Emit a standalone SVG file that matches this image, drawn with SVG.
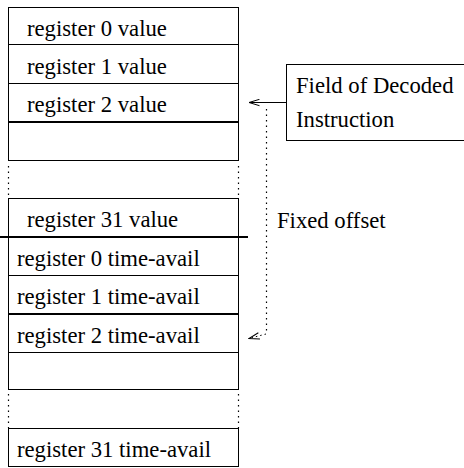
<svg xmlns="http://www.w3.org/2000/svg" width="464" height="468" viewBox="0 0 464 468">
  <style>
    text { font-family: "Liberation Serif", "Times New Roman", serif; font-size: 22.7px; fill: #000; }
    .box { fill: #fff; stroke: #000; stroke-width: 1; }
    .sep { stroke: #000; stroke-width: 1.2; }
    .thick { stroke: #000; stroke-width: 1.8; }
    .dots { stroke: #000; stroke-width: 1.2; stroke-dasharray: 1.5 4; fill: none; }
    .link { stroke: #000; stroke-width: 1; fill: none; }
  </style>
  <defs>
    <marker id="openHead" viewBox="0 0 12 8" refX="11.5" refY="4" markerWidth="12" markerHeight="8" markerUnits="userSpaceOnUse" orient="auto">
      <path d="M1,0.8 L11.5,4 L1,7.2" fill="none" stroke="#000" stroke-width="1"/>
    </marker>
  </defs>

  <!-- register value table -->
  <g id="value-table">
    <rect class="box" x="8.5" y="7.5" width="230" height="153"/>
    <line class="sep" x1="8.5" y1="44.5" x2="238.5" y2="44.5"/>
    <line class="sep" x1="8.5" y1="83.5" x2="238.5" y2="83.5"/>
    <line class="thick" x1="8.5" y1="122" x2="238.5" y2="122"/>
    <text x="27" y="36">register 0 value</text>
    <text x="27" y="74">register 1 value</text>
    <text x="27" y="112">register 2 value</text>
    <line class="dots" x1="8.5" y1="166" x2="8.5" y2="198"/>
    <line class="dots" x1="238.5" y1="166" x2="238.5" y2="198"/>
  </g>

  <!-- last value row and time-avail table -->
  <g id="time-table">
    <rect class="box" x="8.5" y="198.5" width="230" height="191"/>
    <line class="thick" x1="0" y1="237" x2="248" y2="237"/>
    <line class="sep" x1="8.5" y1="275.5" x2="238.5" y2="275.5"/>
    <line class="thick" x1="8.5" y1="314" x2="238.5" y2="314"/>
    <line class="sep" x1="8.5" y1="352.5" x2="238.5" y2="352.5"/>
    <text x="27" y="227">register 31 value</text>
    <text x="17" y="266">register 0 time-avail</text>
    <text x="17" y="304">register 1 time-avail</text>
    <text x="17" y="343">register 2 time-avail</text>
    <line class="dots" x1="8.5" y1="394" x2="8.5" y2="428"/>
    <line class="dots" x1="238.5" y1="394" x2="238.5" y2="428"/>
  </g>

  <g id="last-row">
    <rect class="box" x="8.5" y="428.5" width="230" height="38"/>
    <text x="17" y="457">register 31 time-avail</text>
  </g>

  <!-- decoded instruction field -->
  <g id="field-box">
    <rect class="box" x="286.5" y="64.5" width="190" height="76"/>
    <text x="296" y="93">Field of Decoded</text>
    <text x="296" y="127">Instruction</text>
  </g>

  <g id="fixed-offset-label">
    <text x="277" y="228">Fixed offset</text>
  </g>

  <!-- connectors -->
  <g id="connectors">
    <line class="link" x1="286" y1="102.5" x2="249" y2="102.5" marker-end="url(#openHead)"/>
    <path class="dots" d="M266.5,109 L266.5,333"/>
    <path class="link" d="M266,334 L249,338.5" stroke-dasharray="1.5 3" marker-end="url(#openHead)"/>
  </g>
</svg>
